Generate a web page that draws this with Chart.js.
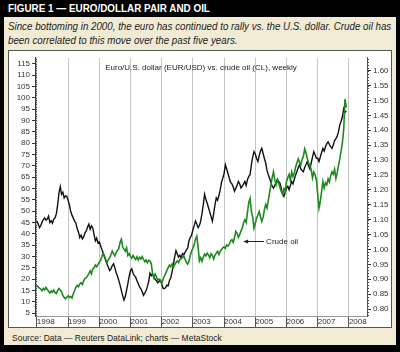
<!DOCTYPE html>
<html>
<head>
<meta charset="utf-8">
<script src="https://cdn.jsdelivr.net/npm/chart.js@4.4.0/dist/chart.umd.min.js"></script>
<style>
  html, body { margin: 0; padding: 0; }
  body { width: 400px; height: 352px; background: #000; position: relative; overflow: hidden;
         font-family: "Liberation Sans", Arial, sans-serif; }
  #panel { position: absolute; left: 4px; top: 17px; width: 392px; height: 328px; background: #f1ebd4; }
  #head { position: absolute; left: 8px; top: 2px; color: #fff; font-weight: bold; font-size: 11px;
          white-space: nowrap; transform-origin: left top; }
  #sub { position: absolute; left: 8px; top: 19px; font-style: italic; font-size: 10.5px; line-height: 14px;
         color: #222; white-space: nowrap; transform-origin: left top; }
  #box { position: absolute; left: 8px; top: 50px; width: 382px; height: 276px; background: #fff;
         border: 1px solid #555; }
  #src { position: absolute; left: 12px; top: 333px; font-size: 8.5px; color: #222; white-space: nowrap; }
  canvas { position: absolute; left: 0; top: 0; }
</style>
</head>
<body>
<div id="panel"></div>
<div id="head">FIGURE 1 — EURO/DOLLAR PAIR AND OIL</div>
<div id="sub">Since bottoming in 2000, the euro has continued to rally vs. the U.S. dollar. Crude oil has<br>been correlated to this move over the past five years.</div>
<div id="box"><canvas id="chart" width="382" height="276"></canvas></div>
<div id="src">Source: Data — Reuters DataLink; charts — MetaStock</div>

<script>
// crude oil (CL), $/bbl, twice a month from Jan 1998
const oilPrice = [
  17.2, 16.5, 16.0, 15.6, 14.8, 15.9, 15.2, 16.3, 15.4, 14.6, 13.9, 14.7, 14.2, 15.1, 14.0, 13.6, 15.0, 15.8, 15.2, 14.4, 12.8, 11.9, 11.3, 12.0,
  12.6, 11.8, 12.3, 11.6, 13.4, 14.8, 16.3, 17.2, 16.6, 17.8, 18.4, 17.6, 19.2, 20.3, 20.6, 21.4, 22.4, 23.6, 22.3, 24.5, 25.0, 26.2, 25.4, 26.5,
  27.4, 28.2, 29.8, 31.6, 30.2, 28.4, 27.3, 28.6, 29.5, 30.8, 32.3, 31.1, 30.2, 31.8, 32.6, 33.4, 36.2, 37.5, 34.1, 33.2, 32.3, 33.8, 30.4, 31.2,
  30.0, 29.2, 30.4, 29.4, 28.6, 29.8, 28.4, 29.6, 28.8, 29.9, 28.7, 27.6, 28.4, 27.2, 28.3, 28.0, 26.8, 22.4, 20.6, 22.2, 21.0, 19.6, 20.0, 19.4,
  17.9, 19.8, 21.2, 22.4, 23.8, 25.0, 26.2, 25.4, 26.6, 25.2, 26.4, 27.3, 28.0, 27.2, 28.6, 29.1, 29.4, 30.2, 28.6, 27.4, 26.6, 27.8, 30.4, 32.3,
  33.6, 35.2, 37.6, 38.9, 34.2, 28.0, 29.4, 27.8, 29.6, 31.0, 30.2, 31.4, 30.6, 29.4, 31.2, 30.4, 28.8, 30.6, 31.4, 32.3, 30.8, 32.2, 33.0, 33.8,
  34.2, 33.6, 35.0, 34.6, 35.4, 36.8, 37.4, 36.2, 38.2, 41.0, 40.2, 38.4, 39.6, 41.2, 42.5, 44.8, 46.2, 45.0, 49.6, 53.8, 55.6, 49.8, 47.4, 42.5,
  44.6, 46.8, 48.2, 49.8, 47.6, 45.4, 47.2, 50.6, 52.9, 51.3, 54.6, 58.2, 61.4, 64.8, 67.3, 63.6, 61.6, 63.8, 62.2, 60.4, 58.6, 57.4, 59.8, 58.8,
  63.0, 64.8, 66.2, 63.4, 67.3, 65.2, 66.8, 69.4, 71.2, 73.0, 71.6, 70.4, 72.8, 74.2, 77.4, 75.6, 73.2, 71.0, 70.3, 68.2, 64.6, 67.2, 66.0, 63.8,
  57.4, 51.3, 54.2, 58.6, 63.0, 60.2, 62.4, 61.6, 64.2, 62.8, 65.6, 67.3, 66.2, 68.4, 64.4, 66.8, 70.2, 73.0, 76.4, 80.2, 86.0, 99.4, 95.7
];

// EUR/USD, same dates
const eurUsd = [
  1.095, 1.085, 1.073, 1.080, 1.092, 1.100, 1.106, 1.098, 1.102, 1.112, 1.090, 1.096, 1.088, 1.102, 1.106, 1.120, 1.150, 1.190, 1.211, 1.185, 1.192, 1.173, 1.180, 1.178,
  1.165, 1.150, 1.128, 1.115, 1.105, 1.095, 1.088, 1.070, 1.058, 1.040, 1.048, 1.035, 1.042, 1.056, 1.062, 1.075, 1.085, 1.068, 1.079, 1.072, 1.050, 1.029, 1.038, 1.022,
  1.025, 1.012, 1.000, 0.986, 0.975, 0.962, 0.950, 0.940, 0.929, 0.935, 0.946, 0.952, 0.938, 0.922, 0.910, 0.896, 0.880, 0.862, 0.845, 0.830, 0.842, 0.863, 0.885, 0.910,
  0.929, 0.935, 0.920, 0.912, 0.907, 0.895, 0.885, 0.874, 0.868, 0.858, 0.846, 0.853, 0.862, 0.875, 0.892, 0.920, 0.912, 0.918, 0.907, 0.900, 0.895, 0.888, 0.893, 0.896,
  0.885, 0.870, 0.868, 0.872, 0.880, 0.878, 0.896, 0.905, 0.925, 0.950, 0.975, 0.996, 0.985, 0.974, 0.980, 0.972, 0.986, 0.982, 0.990, 0.998, 1.005, 1.029, 1.040, 1.048,
  1.065, 1.080, 1.095, 1.085, 1.073, 1.080, 1.095, 1.120, 1.150, 1.185, 1.168, 1.155, 1.140, 1.125, 1.110, 1.095, 1.120, 1.150, 1.173, 1.165, 1.180, 1.200, 1.225, 1.239,
  1.255, 1.284, 1.270, 1.255, 1.239, 1.225, 1.220, 1.210, 1.195, 1.205, 1.215, 1.228, 1.220, 1.206, 1.212, 1.220, 1.228, 1.215, 1.235, 1.245, 1.251, 1.285, 1.310, 1.328,
  1.320, 1.305, 1.295, 1.315, 1.330, 1.339, 1.322, 1.305, 1.290, 1.265, 1.251, 1.238, 1.225, 1.212, 1.206, 1.215, 1.225, 1.235, 1.228, 1.222, 1.205, 1.185, 1.178, 1.192,
  1.206, 1.212, 1.200, 1.215, 1.228, 1.220, 1.235, 1.250, 1.261, 1.275, 1.284, 1.270, 1.265, 1.261, 1.275, 1.285, 1.295, 1.280, 1.270, 1.290, 1.310, 1.328, 1.318, 1.306,
  1.306, 1.295, 1.310, 1.325, 1.339, 1.330, 1.345, 1.355, 1.361, 1.352, 1.345, 1.339, 1.350, 1.365, 1.372, 1.380, 1.395, 1.417, 1.430, 1.445, 1.472, 1.460, 1.465
];

const yearTicks = [1998, 1999, 2000, 2001, 2002, 2003, 2004, 2005, 2006, 2007, 2008];
const oilTicks = [5, 10, 15, 20, 25, 30, 35, 40, 45, 50, 55, 60, 65, 70, 75, 80, 85, 90, 95, 100, 105, 110, 115];
const eurTicks = [0.80, 0.85, 0.90, 0.95, 1.00, 1.05, 1.10, 1.15, 1.20, 1.25, 1.30, 1.35, 1.40, 1.45, 1.50, 1.55, 1.60];

const chartTitle = 'Euro/U.S. dollar (EUR/USD) vs. crude oil (CL), weekly';
const oilNote = { text: 'Crude oil', x: 2004.61, y: 36.7 };

// squeeze the header lines to the widths they have in the printed figure
function fitWidth(el, w) {
  el.style.transform = 'scaleX(' + (w / el.scrollWidth) + ')';
}
fitWidth(document.getElementById('head'), 202);
fitWidth(document.getElementById('sub'), 383);

// twice-monthly sample dates as fractional years
const sampleDates = oilPrice.map((_, i) => 1998 + i / 24);

const toPoints = vals => vals.map((v, i) => ({ x: sampleDates[i], y: v }));

// small ruler ticks on both value axes, title text and the crude oil arrow
const extras = {
  id: 'extras',
  afterDraw(chart) {
    const ctx = chart.ctx;
    const area = chart.chartArea;
    const yl = chart.scales.y;
    const yr = chart.scales.y1;
    ctx.save();
    ctx.strokeStyle = '#444';
    ctx.lineWidth = 1;
    ctx.beginPath();
    for (let v = Math.ceil(yl.min); v <= yl.max; v++) {
      const py = Math.round(yl.getPixelForValue(v)) + 0.5;
      ctx.moveTo(area.left, py);
      ctx.lineTo(area.left + 2, py);
    }
    for (let v = Math.ceil(yr.min * 100); v <= yr.max * 100; v++) {
      const py = Math.round(yr.getPixelForValue(v / 100)) + 0.5;
      ctx.moveTo(area.right, py);
      ctx.lineTo(area.right + 2, py);
    }
    ctx.stroke();

    ctx.fillStyle = '#222';
    ctx.font = '8px "Liberation Sans", Arial, sans-serif';
    ctx.textAlign = 'center';
    ctx.textBaseline = 'middle';
    ctx.fillText(chartTitle, (area.left + area.right) / 2, area.top + 10);

    const ax = chart.scales.x.getPixelForValue(oilNote.x);
    const ay = Math.round(yl.getPixelForValue(oilNote.y)) + 0.5;
    ctx.strokeStyle = '#222';
    ctx.beginPath();
    ctx.moveTo(ax + 2, ay);
    ctx.lineTo(ax + 21, ay);
    ctx.stroke();
    ctx.beginPath();
    ctx.moveTo(ax, ay);
    ctx.lineTo(ax + 5, ay - 2);
    ctx.lineTo(ax + 5, ay + 2);
    ctx.closePath();
    ctx.fill();
    ctx.textAlign = 'left';
    ctx.fillText(oilNote.text, ax + 23, ay);
    ctx.restore();
  }
};

new Chart(document.getElementById('chart'), {
  type: 'line',
  data: {
    datasets: [
      {
        label: 'Crude oil',
        data: toPoints(oilPrice),
        yAxisID: 'y',
        borderColor: '#1d8a1d',
        borderWidth: 1.6,
        pointRadius: 0,
        tension: 0
      },
      {
        label: 'EUR/USD',
        data: toPoints(eurUsd),
        yAxisID: 'y1',
        borderColor: '#111',
        borderWidth: 1.4,
        pointRadius: 0,
        tension: 0
      }
    ]
  },
  options: {
    responsive: false,
    animation: false,
    layout: { padding: { top: 4, left: 0, right: 0, bottom: 0 } },
    plugins: {
      legend: { display: false },
      tooltip: { enabled: false },
      title: { display: false }
    },
    scales: {
      x: {
        type: 'linear',
        min: 1997.94,
        max: 2008.58,
        afterBuildTicks: s => { s.ticks = yearTicks.map(v => ({ value: v })); },
        afterFit: s => { s.height = 11; },
        ticks: {
          align: 'start',
          padding: -10,
          autoSkip: false,
          maxRotation: 0,
          color: '#333',
          font: { size: 8, family: '"Liberation Sans", Arial, sans-serif' },
          callback: v => String(v)
        },
        grid: {
          color: '#c4c4c4',
          borderDash: [1, 1],
          tickColor: '#555',
          tickLength: 11,
          tickBorderDash: []
        },
        border: { display: true, color: '#999' }
      },
      y: {
        position: 'left',
        min: 3.69,
        max: 117.6,
        afterBuildTicks: s => { s.ticks = oilTicks.map(v => ({ value: v })); },
        afterFit: s => { s.width = 26; },
        ticks: {
          autoSkip: false,
          padding: 2,
          color: '#333',
          font: { size: 8, family: '"Liberation Sans", Arial, sans-serif' }
        },
        grid: { drawOnChartArea: false, tickLength: 3, color: '#333' },
        border: { color: '#333' }
      },
      y1: {
        position: 'right',
        min: 0.7766,
        max: 1.643,
        afterBuildTicks: s => { s.ticks = eurTicks.map(v => ({ value: v })); },
        afterFit: s => { s.width = 24; },
        ticks: {
          autoSkip: false,
          padding: 2,
          color: '#333',
          font: { size: 8, family: '"Liberation Sans", Arial, sans-serif' },
          callback: v => v.toFixed(2)
        },
        grid: { drawOnChartArea: false, tickLength: 4, color: '#333' },
        border: { color: '#555', dash: [1, 2] }
      }
    }
  },
  plugins: [extras]
});
</script>
</body>
</html>
